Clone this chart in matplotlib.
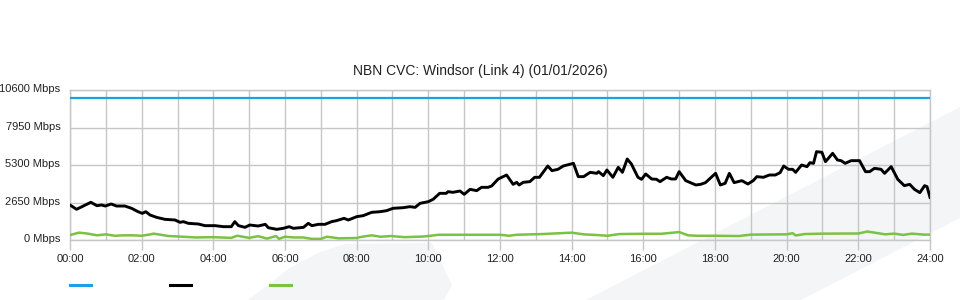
import matplotlib.pyplot as plt
from matplotlib.lines import Line2D
from matplotlib.patches import Polygon
from matplotlib.transforms import ScaledTranslation

plt.rcParams['font.family'] = ['Liberation Sans', 'DejaVu Sans']

title = "NBN CVC: Windsor (Link 4) (01/01/2026)"

# capacity (blue)
cap_t = [0, 1440]
cap_v = [10000, 10000]

# traffic in (black), minutes since midnight / Mbps
in_t = [0, 11, 20, 35, 45, 53, 59, 69, 78, 92, 103, 114, 121, 127, 134, 145, 159, 176,
        184, 190, 198, 215, 226, 243, 257, 270, 276, 282, 293, 301, 315, 327, 332, 346,
        357, 367, 374, 391, 399, 405, 416, 427, 438, 446, 459, 466, 480, 491, 505, 519,
        530, 541, 558, 569, 578, 586, 600, 608, 619, 630, 633, 641, 653, 660, 670, 681,
        689, 700, 706, 717, 731, 742, 748, 752, 759, 770, 778, 786, 800, 807, 817, 826,
        843, 851, 860, 871, 882, 885, 893, 899, 909, 918, 925, 933, 940, 951, 957, 964,
        974, 982, 988, 999, 1007, 1014, 1020, 1031, 1039, 1048, 1056, 1064, 1081, 1089,
        1097, 1104, 1112, 1125, 1135, 1144, 1150, 1161, 1171, 1181, 1189, 1195, 1203,
        1210, 1215, 1225, 1234, 1239, 1245, 1250, 1259, 1265, 1277, 1285, 1291, 1298,
        1308, 1322, 1332, 1339, 1347, 1358, 1364, 1375, 1386, 1397, 1406, 1414, 1423,
        1431, 1435, 1440]
in_v = [2473, 2170, 2353, 2664, 2424, 2473, 2400, 2544, 2400, 2400, 2240, 2000, 1884, 2000,
        1767, 1600, 1460, 1413, 1250, 1296, 1178, 1130, 1013, 1013, 942, 942, 1296, 1013,
        895, 1060, 989, 1107, 871, 754, 825, 942, 825, 895, 1178, 1013, 1107, 1107, 1296,
        1366, 1531, 1413, 1649, 1720, 1955, 2000, 2073, 2240, 2284, 2355, 2308, 2590, 2709,
        2874, 3298, 3298, 3416, 3368, 3463, 3227, 3580, 3486, 3722, 3722, 3816, 4311, 4593,
        3934, 4076, 3887, 4076, 4123, 4430, 4430, 5230, 4900, 4995, 5230, 5418, 4477, 4477,
        4783, 4712, 4830, 4547, 4947, 4430, 5136, 4783, 5724, 5371, 4430, 4289, 4664, 4311,
        4289, 4123, 4430, 4311, 4311, 4830, 4194, 4053, 3887, 3934, 4053, 4712, 3887, 4006,
        4712, 4053, 4194, 3958, 4194, 4477, 4430, 4593, 4593, 4760, 5230, 4995, 4995, 4783,
        5300, 5183, 5465, 5418, 6243, 6197, 5535, 6126, 5654, 5607, 5418, 5607, 5607, 4830,
        4830, 5065, 4995, 4712, 5183, 4289, 3840, 3934, 3580, 3345, 3840, 3770, 3015]

# traffic out (green)
out_t = [0, 15, 30, 45, 60, 75, 90, 105, 120, 135, 140, 165, 180, 210, 240, 270, 280, 300,
         315, 330, 345, 350, 360, 375, 390, 405, 420, 430, 450, 480, 485, 505, 520, 538,
         560, 590, 604, 617, 660, 720, 735, 748, 791, 840, 860, 883, 900, 920, 959, 990,
         1020, 1035, 1050, 1080, 1120, 1140, 1200, 1210, 1215, 1230, 1260, 1320, 1335,
         1350, 1365, 1380, 1395, 1410, 1430, 1440]
out_v = [350, 520, 450, 330, 400, 300, 330, 330, 300, 400, 450, 280, 250, 180, 200, 150, 300,
         150, 270, 100, 280, 80, 230, 180, 180, 80, 80, 230, 120, 140, 200, 330, 230, 280,
         200, 240, 300, 370, 370, 370, 300, 370, 420, 520, 400, 350, 300, 420, 440, 440,
         560, 330, 300, 300, 280, 380, 400, 480, 320, 420, 450, 460, 600, 500, 400, 450,
         360, 450, 380, 380]

yticks = [0, 2650, 5300, 7950, 10600]
xticks = list(range(0, 25, 2))

W, H = 960, 300
fig = plt.figure(figsize=(9.6, 3.0), dpi=100)

# faint background watermark, on its own axes behind everything
bg = fig.add_axes([0, 0, 1, 1], zorder=-1)
bg.set_xlim(0, W)
bg.set_ylim(H, 0)
bg.axis('off')
shade = '#f4f5f7'
band = [(586, 300), (960, 107), (960, 218), (801, 300)]
blob = [(248, 300), (290, 268), (320, 252), (345, 244), (432, 243), (452, 285), (444, 300)]
for poly in (band, blob):
    bg.add_patch(Polygon(poly, closed=True, facecolor=shade, edgecolor='none'))

ax = fig.add_axes([70 / W, 1 - 240 / H, 860 / W, 150 / H], zorder=1)
ax.set_facecolor('none')

ax.plot([t / 60 for t in cap_t], cap_v, color='#1ba0e4', lw=1.6, zorder=3)
ax.plot([t / 60 for t in in_t], in_v, color='black', lw=2.1, zorder=4)
ax.plot([t / 60 for t in out_t], out_v, color='#7bc143', lw=1.8, zorder=3)

ax.set_xlim(0, 24)
ax.set_ylim(0, 10600)
ax.set_yticks(yticks)
ax.set_yticklabels([f"{v} Mbps" for v in yticks])
ax.set_xticks(xticks)
ax.set_xticklabels([f"{h:02d}:00" for h in xticks])
ax.set_xticks(range(0, 25), minor=True)

grid_c = '#c6c6c6'
ax.grid(True, which='both', color=grid_c, lw=1.0, zorder=1)
for s in ax.spines.values():
    s.set_color(grid_c)
    s.set_linewidth(1.0)
ax.tick_params(axis='y', length=0, pad=7, labelsize=8, labelcolor='#222222')
ax.tick_params(axis='x', which='major', length=7, color=grid_c, width=1.0,
               pad=3, labelsize=8, labelcolor='#222222')
ax.tick_params(axis='x', which='minor', length=0)

# y labels sit a touch above their gridline
lift = ScaledTranslation(0, 2 / 100, fig.dpi_scale_trans)
for lab in ax.get_yticklabels():
    lab.set_transform(lab.get_transform() + lift)

fig.text(0.5, 1 - 71 / H, title, ha='center', va='center', fontsize=10, color='#222222')

# legend swatches
for x0, c in [(70, '#1ba0e4'), (170, 'black'), (270, '#7bc143')]:
    fig.add_artist(Line2D([x0 / W, (x0 + 21) / W], [1 - 285 / H] * 2,
                          transform=fig.transFigure, color=c, lw=2.2))

fig.savefig('out.png', dpi=100)
